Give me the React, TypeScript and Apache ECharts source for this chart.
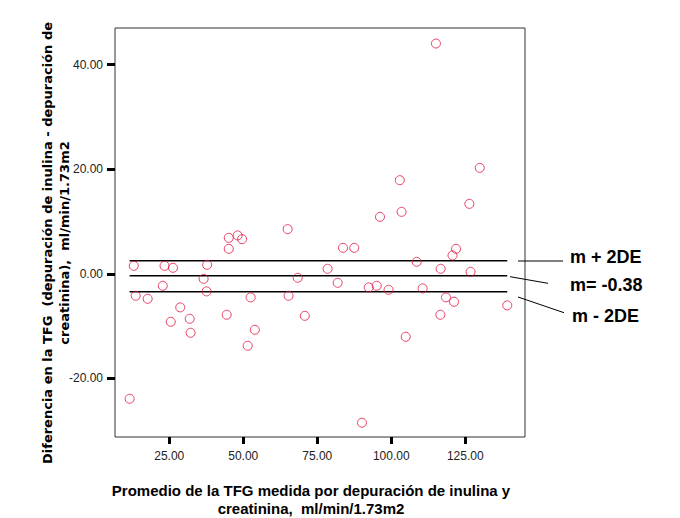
import React, { useEffect, useRef } from "react";
import * as echarts from "echarts";

// Promedio de la TFG (x) and diferencia (y)
const promedio = [
  115.1, 129.9, 102.9, 126.4, 96.2, 103.5, 65.0, 45.1, 48.1, 49.6,
  45.1, 83.7, 87.5, 121.9, 120.7, 13.0, 23.4, 26.25, 37.8, 78.5,
  108.6, 116.7, 126.8, 36.6, 68.4, 81.9, 22.8, 37.6, 92.4, 95.1,
  99.1, 110.6, 13.65, 17.7, 52.5, 65.3, 118.5, 121.2, 139.2, 28.7,
  31.9, 25.5, 44.4, 70.8, 116.6, 53.9, 32.2, 51.5, 104.9, 11.6, 90.1,
];
const diferencia = [
  44.03, 20.26, 17.9, 13.38, 10.89, 11.85, 8.54, 6.88, 7.34, 6.63,
  4.78, 4.97, 4.97, 4.78, 3.52, 1.53, 1.53, 1.15, 1.72, 0.96,
  2.29, 0.96, 0.38, -0.96, -0.76, -1.72, -2.29, -3.36, -2.6, -2.29,
  -3.06, -2.79, -4.2, -4.78, -4.51, -4.2, -4.51, -5.35, -6.04, -6.42,
  -8.6, -9.17, -7.83, -8.03, -7.83, -10.7, -11.27, -13.76, -12.04, -23.89, -28.47,
];
const xTicks = [25, 50, 75, 100, 125];
const yTicks = [-20, 0, 20, 40];
const limitNames = ["m + 2DE", "m= -0.38", "m - 2DE"];
const limitValues = [2.5, -0.38, -3.45];

const xAxisTitle = ["Promedio de la TFG medida por depuración de inulina y", "creatinina,  ml/min/1.73m2"];
const yAxisTitle = ["Diferencia en la TFG  (depuración de inulina - depuración de", "creatinina),  ml/min/1.73m2"];

const FONT = "'Liberation Sans', Arial, sans-serif";
const WIDE = "'DejaVu Sans', Verdana, sans-serif";

export default function App() {
  const ref = useRef<HTMLDivElement>(null);
  useEffect(() => {
    if (!ref.current) return;
    const chart = echarts.init(ref.current, null, { renderer: "svg" });
    const xMin = Math.min(...promedio);
    const xMax = Math.max(...promedio);
    const points = promedio.map((x, i) => [x, diferencia[i]]);

    const limitSeries = limitValues.map((v, i) => ({
      type: "line",
      name: limitNames[i],
      data: [[xMin, v], [xMax, v]],
      symbol: "none",
      lineStyle: { color: "#000", width: 1.5 },
      z: 2,
      silent: true,
    }));

    const annotationLines = [
      [518, 261, 563, 261],
      [510, 276.7, 548, 283.3],
      [518, 297, 564, 312.7],
    ];
    const annotationText = [
      { x: 570, y: 257 },
      { x: 570, y: 285 },
      { x: 572, y: 316 },
    ];

    chart.setOption({
      animation: false,
      backgroundColor: "#fff",
      grid: {
        left: 115,
        top: 28,
        width: 410,
        height: 409,
        show: true,
        borderColor: "#333",
        borderWidth: 1,
        backgroundColor: "transparent",
      },
      xAxis: {
        type: "value",
        min: 6.66,
        max: 145.2,
        splitLine: { show: false },
        axisLine: { show: false, onZero: false },
        axisTick: {
          show: true,
          length: 7,
          lineStyle: { color: "#000", width: 3 },
          customValues: xTicks,
        },
        axisLabel: {
          customValues: xTicks,
          formatter: (v: number) => v.toFixed(2),
          color: "#222",
          fontSize: 12,
          fontFamily: FONT,
          margin: 13,
        },
      },
      yAxis: {
        type: "value",
        min: -31.2,
        max: 47.0,
        splitLine: { show: false },
        axisLine: { show: false, onZero: false },
        axisTick: {
          show: true,
          length: 8,
          lineStyle: { color: "#000", width: 3 },
          customValues: yTicks,
        },
        axisLabel: {
          customValues: yTicks,
          formatter: (v: number) => v.toFixed(2),
          color: "#222",
          fontSize: 12,
          fontFamily: FONT,
          margin: 12,
        },
      },
      series: [
        ...limitSeries,
        {
          type: "scatter",
          data: points,
          symbol: "circle",
          symbolSize: 9,
          itemStyle: { color: "rgba(255,255,255,0)", borderColor: "#e3143f", borderWidth: 1 },
          z: 3,
        },
      ],
      graphic: [
        ...annotationLines.map((l) => ({
          type: "line",
          shape: { x1: l[0], y1: l[1], x2: l[2], y2: l[3] },
          style: { stroke: "#000", lineWidth: 1 },
        })),
        ...limitNames.map((t, i) => ({
          type: "text",
          x: annotationText[i].x,
          y: annotationText[i].y,
          style: {
            text: t,
            fontSize: 18,
            fontWeight: "bold",
            fontFamily: FONT,
            fill: "#000",
            align: "left",
            verticalAlign: "middle",
          },
        })),
        {
          type: "text",
          x: 311,
          y: 499,
          style: {
            text: xAxisTitle.join("\n"),
            fontSize: 15,
            fontWeight: "bold",
            fontFamily: FONT,
            fill: "#000",
            align: "center",
            verticalAlign: "middle",
            lineHeight: 18,
          },
        },
        {
          type: "text",
          x: 56,
          y: 243,
          rotation: Math.PI / 2,
          style: {
            text: yAxisTitle.join("\n"),
            fontSize: 13,
            fontWeight: "bold",
            fontFamily: WIDE,
            fill: "#000",
            align: "center",
            verticalAlign: "middle",
            lineHeight: 17,
          },
        },
      ],
    });
    return () => chart.dispose();
  }, []);
  return (
    <div
      ref={ref}
      style={{ position: "fixed", left: 0, top: 0, width: 680, height: 518, background: "#fff" }}
    />
  );
}
